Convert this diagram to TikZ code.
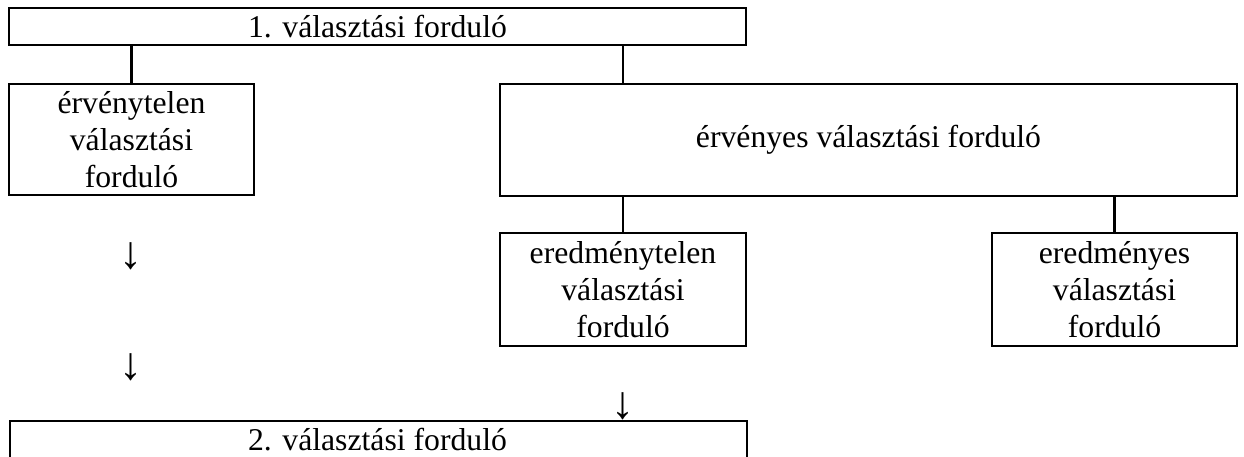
\documentclass[tikz,border=0pt]{standalone}
\usepackage{fontspec}
\setmainfont{Liberation Serif}
\begin{document}
\begin{tikzpicture}[x=1pt,y=-1pt,
  box/.style={draw,line width=2.4pt,rectangle,inner sep=0pt,align=center,
    font=\fontsize{31.7}{37}\selectfont},
  conn/.style={line width=2.4pt},
  arr/.style={inner sep=0pt,font=\fontsize{46}{46}\selectfont}]
\useasboundingbox (0,0) rectangle (1244,457);
\clip (0,0) rectangle (1244,457);
\node[box,minimum width=737pt,minimum height=37pt] (top) at (377.5,26.5) {1. választási forduló};
\node[box,minimum width=245pt,minimum height=111pt] (inv) at (131.5,139.5) {érvénytelen\\választási\\forduló};
\node[box,minimum width=737pt,minimum height=112pt] (val) at (868.5,140) {érvényes választási forduló};
\node[box,minimum width=246pt,minimum height=113pt] (ered0) at (623,289.5) {eredménytelen\\választási\\forduló};
\node[box,minimum width=245pt,minimum height=113pt] (ered1) at (1114.5,289.5) {eredményes\\választási\\forduló};
\node[box,minimum width=737pt,minimum height=44pt,anchor=north west,text depth=0pt] (second) at (9,420) {};
\node[font=\fontsize{31.7}{37}\selectfont,inner sep=0pt] (secondlabel) at (377.5,440) {2. választási forduló};
\draw[conn] (inv.north) -- (inv.north |- top.south);
\draw[conn] (val.north -| 623,0) -- (623,0 |- top.south);
\draw[conn] (ered0.north) -- (ered0.north |- val.south);
\draw[conn] (ered1.north) -- (ered1.north |- val.south);
\node[arr] (a1) at (131,256) {↓};
\node[arr] (a2) at (131,367) {↓};
\node[arr] (a3) at (623,406) {↓};
\end{tikzpicture}
\end{document}
